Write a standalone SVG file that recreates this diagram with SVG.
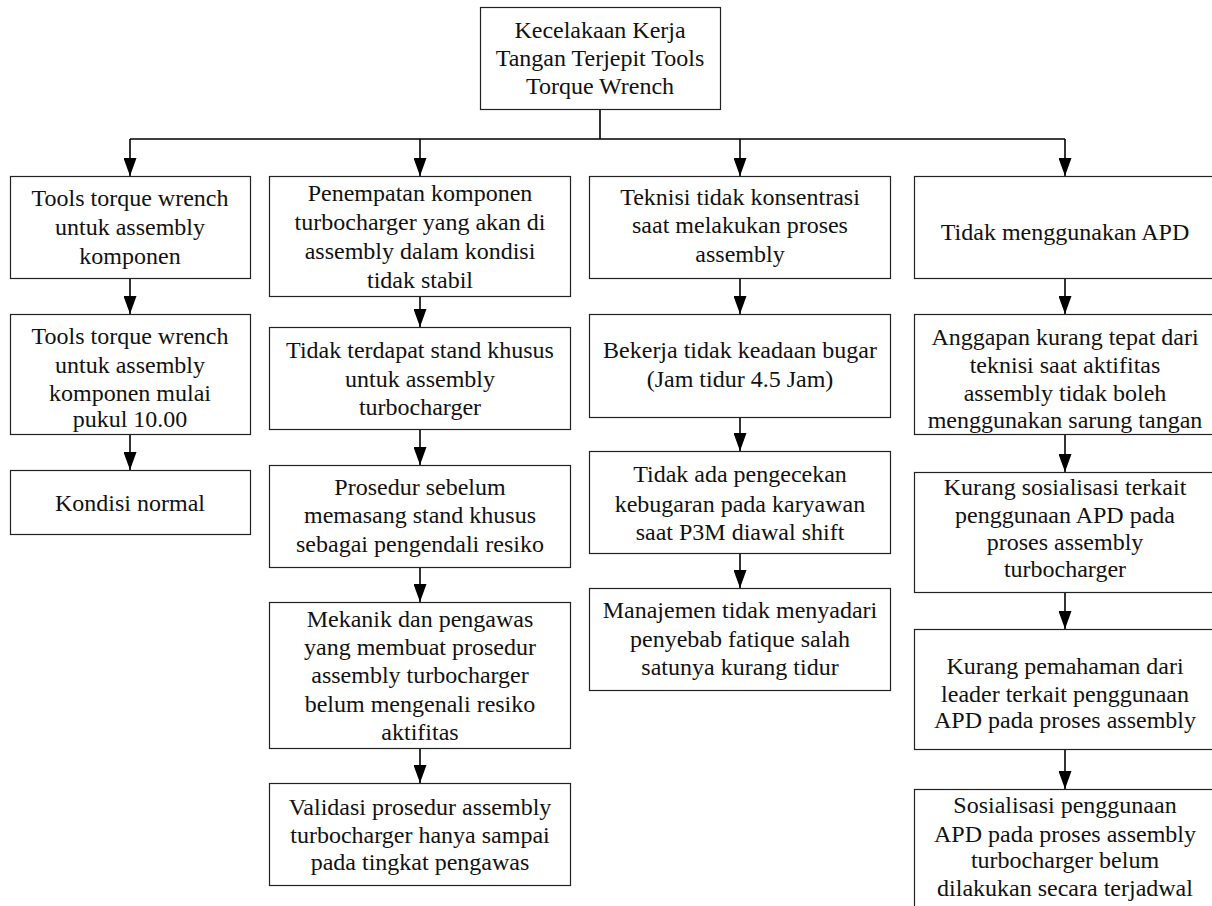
<svg xmlns="http://www.w3.org/2000/svg" width="1212" height="906" viewBox="0 0 1212 906">
<style>
.box{fill:#fff;stroke:#222;stroke-width:1.2}
.t{font-family:'Liberation Serif','Times New Roman',serif;font-size:24px;fill:#111;text-anchor:middle}
.c{fill:none;stroke:#000;stroke-width:1.6}
</style>
<defs>
<marker id="ah" markerUnits="userSpaceOnUse" markerWidth="18" markerHeight="13" viewBox="0 0 18 13" refX="18" refY="6.5" orient="auto">
<path d="M0,0 L18,6.5 L0,13 z" fill="#000"/>
</marker>
</defs>
<rect width="1212" height="906" fill="#fff"/>
<g id="connectors">
<path class="c" d="M600,109 V139 M130,139 H1065"/>
<path class="c" d="M130,139 V176" marker-end="url(#ah)"/>
<path class="c" d="M420,139 V176" marker-end="url(#ah)"/>
<path class="c" d="M740,139 V176" marker-end="url(#ah)"/>
<path class="c" d="M1065,139 V176" marker-end="url(#ah)"/>
<path class="c" d="M130,278 V314" marker-end="url(#ah)"/>
<path class="c" d="M130,434 V470" marker-end="url(#ah)"/>
<path class="c" d="M420,296 V327" marker-end="url(#ah)"/>
<path class="c" d="M420,429 V465" marker-end="url(#ah)"/>
<path class="c" d="M420,567 V602" marker-end="url(#ah)"/>
<path class="c" d="M420,748 V783" marker-end="url(#ah)"/>
<path class="c" d="M740,278 V314" marker-end="url(#ah)"/>
<path class="c" d="M740,417 V451" marker-end="url(#ah)"/>
<path class="c" d="M740,553 V588" marker-end="url(#ah)"/>
<path class="c" d="M1065,278 V314" marker-end="url(#ah)"/>
<path class="c" d="M1065,434 V472" marker-end="url(#ah)"/>
<path class="c" d="M1065,592 V629" marker-end="url(#ah)"/>
<path class="c" d="M1065,749 V789" marker-end="url(#ah)"/>
</g>
<g font-family="Liberation Serif, Times New Roman, serif">
<g id="n0"><rect class="box" x="480.5" y="7.5" width="240" height="102"/>
<text class="t" x="600" y="38">Kecelakaan Kerja</text><text class="t" x="600" y="66">Tangan Terjepit Tools</text><text class="t" x="600" y="94">Torque Wrench</text></g>

<g id="n1a"><rect class="box" x="10.5" y="176.5" width="240" height="102"/>
<text class="t" x="130" y="206">Tools torque wrench</text><text class="t" x="130" y="235">untuk assembly</text><text class="t" x="130" y="264">komponen</text></g>
<g id="n1b"><rect class="box" x="10.5" y="314.5" width="240" height="120"/>
<text class="t" x="130" y="344">Tools torque wrench</text><text class="t" x="130" y="373">untuk assembly</text><text class="t" x="130" y="401">komponen mulai</text><text class="t" x="130" y="427">pukul 10.00</text></g>
<g id="n1c"><rect class="box" x="10.5" y="470.5" width="240" height="64"/>
<text class="t" x="130" y="511">Kondisi normal</text></g>

<g id="n2a"><rect class="box" x="269.5" y="176.5" width="301" height="120"/>
<text class="t" x="420" y="201">Penempatan komponen</text><text class="t" x="420" y="230">turbocharger yang akan di</text><text class="t" x="420" y="259">assembly dalam kondisi</text><text class="t" x="420" y="288">tidak stabil</text></g>
<g id="n2b"><rect class="box" x="269.5" y="327.5" width="301" height="102"/>
<text class="t" x="420" y="358">Tidak terdapat stand khusus</text><text class="t" x="420" y="387">untuk assembly</text><text class="t" x="420" y="415">turbocharger</text></g>
<g id="n2c"><rect class="box" x="269.5" y="465.5" width="301" height="102"/>
<text class="t" x="420" y="495">Prosedur sebelum</text><text class="t" x="420" y="523">memasang stand khusus</text><text class="t" x="420" y="552">sebagai pengendali resiko</text></g>
<g id="n2d"><rect class="box" x="269.5" y="602.5" width="301" height="146"/>
<text class="t" x="420" y="627">Mekanik dan pengawas</text><text class="t" x="420" y="655">yang membuat prosedur</text><text class="t" x="420" y="683">assembly turbocharger</text><text class="t" x="420" y="712">belum mengenali resiko</text><text class="t" x="420" y="740">aktifitas</text></g>
<g id="n2e"><rect class="box" x="269.5" y="783.5" width="301" height="102"/>
<text class="t" x="420" y="815">Validasi prosedur assembly</text><text class="t" x="420" y="843">turbocharger hanya sampai</text><text class="t" x="420" y="870">pada tingkat pengawas</text></g>

<g id="n3a"><rect class="box" x="589.5" y="176.5" width="301" height="102"/>
<text class="t" x="740" y="205">Teknisi tidak konsentrasi</text><text class="t" x="740" y="233">saat melakukan proses</text><text class="t" x="740" y="262">assembly</text></g>
<g id="n3b"><rect class="box" x="589.5" y="314.5" width="301" height="103"/>
<text class="t" x="740" y="358">Bekerja tidak keadaan bugar</text><text class="t" x="740" y="387">(Jam tidur 4.5 Jam)</text></g>
<g id="n3c"><rect class="box" x="589.5" y="451.5" width="301" height="102"/>
<text class="t" x="740" y="482">Tidak ada pengecekan</text><text class="t" x="740" y="512">kebugaran pada karyawan</text><text class="t" x="740" y="540">saat P3M diawal shift</text></g>
<g id="n3d"><rect class="box" x="589.5" y="588.5" width="301" height="102"/>
<text class="t" x="740" y="618">Manajemen tidak menyadari</text><text class="t" x="740" y="647">penyebab fatique salah</text><text class="t" x="740" y="675">satunya kurang tidur</text></g>

<g id="n4a"><rect class="box" x="914.5" y="176.5" width="301" height="102"/>
<text class="t" x="1065" y="240">Tidak menggunakan APD</text></g>
<g id="n4b"><rect class="box" x="914.5" y="314.5" width="301" height="120"/>
<text class="t" x="1065" y="345">Anggapan kurang tepat dari</text><text class="t" x="1065" y="373">teknisi saat aktifitas</text><text class="t" x="1065" y="401">assembly tidak boleh</text><text class="t" x="1065" y="428">menggunakan sarung tangan</text></g>
<g id="n4c"><rect class="box" x="914.5" y="472.5" width="301" height="120"/>
<text class="t" x="1065" y="495">Kurang sosialisasi terkait</text><text class="t" x="1065" y="523">penggunaan APD pada</text><text class="t" x="1065" y="550">proses assembly</text><text class="t" x="1065" y="577">turbocharger</text></g>
<g id="n4d"><rect class="box" x="914.5" y="629.5" width="301" height="120"/>
<text class="t" x="1065" y="674">Kurang pemahaman dari</text><text class="t" x="1065" y="702">leader terkait penggunaan</text><text class="t" x="1065" y="728">APD pada proses assembly</text></g>
<g id="n4e"><rect class="box" x="914.5" y="789.5" width="301" height="125"/>
<text class="t" x="1065" y="813">Sosialisasi penggunaan</text><text class="t" x="1065" y="842">APD pada proses assembly</text><text class="t" x="1065" y="868">turbocharger belum</text><text class="t" x="1065" y="896">dilakukan secara terjadwal</text></g>
</g>
</svg>
